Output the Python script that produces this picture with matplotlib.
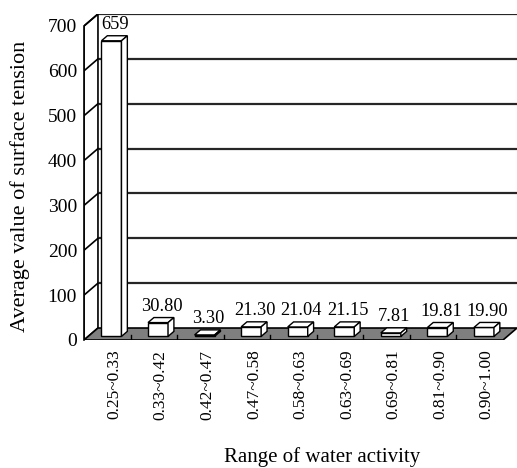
import matplotlib
matplotlib.use("Agg")
import matplotlib.pyplot as plt
from matplotlib.patches import Polygon

# ---- data ----
categories = ["0.25~0.33", "0.33~0.42", "0.42~0.47", "0.47~0.58", "0.58~0.63",
              "0.63~0.69", "0.69~0.81", "0.81~0.90", "0.90~1.00"]
values = [659, 30.80, 3.30, 21.30, 21.04, 21.15, 7.81, 19.81, 19.90]
value_labels = ["659", "30.80", "3.30", "21.30", "21.04", "21.15", "7.81", "19.81", "19.90"]
y_ticks = [0, 100, 200, 300, 400, 500, 600, 700]
x_title = "Range of water activity"
y_title = "Average value of surface tension"

FAM = ['Liberation Serif', 'DejaVu Serif']
plt.rcParams['font.family'] = FAM

W, H = 517, 468
fig = plt.figure(figsize=(W / 100, H / 100), dpi=100)
ax = fig.add_axes([84 / W, (H - 340) / H, (517 - 84) / W, (340 - 14) / H])

n = len(categories)
ymax = y_ticks[-1]
DX = 0.30          # depth offset in category units
DY = 26.7          # depth offset in value units
ax.set_xlim(0, n + DX)
ax.set_ylim(0, ymax + DY)


def P(x, y, d):
    return (x + d * DX, y + d * DY)


def poly(pts, fc, ec="black", lw=1.0, z=1):
    ax.add_patch(Polygon(pts, closed=True, facecolor=fc, edgecolor=ec,
                         linewidth=lw, zorder=z, joinstyle="miter"))


# left wall
poly([P(0, 0, 0), P(0, ymax, 0), P(0, ymax, 1), P(0, 0, 1)], "white", lw=1.2, z=1)
# back wall gridlines
for v in y_ticks[1:]:
    a, b = P(0, v, 1), P(n, v, 1)
    ax.plot([a[0], b[0] + 0.5], [a[1], b[1]], color="#262626", lw=1.6, zorder=1.5,
            solid_capstyle="butt")
    c = P(0, v, 0)
    ax.plot([c[0], a[0]], [c[1], a[1]], color="black", lw=1.2, zorder=1.5)
# floor
poly([P(0, 0, 0), P(n, 0, 0), P(n, 0, 1), P(0, 0, 1)], "#7f7f7f", lw=1.2, z=2)
for i in range(1, n):
    ax.plot([i, i], [0, 11], color="black", lw=1.0, zorder=2.5)

# bars
bw = 0.43
d0, d1 = 0.3, 0.72
for i, v in enumerate(values):
    x0 = i + 0.5 - bw / 2
    x1 = i + 0.5 + bw / 2
    z = 3 + i * 0.01
    poly([P(x0, 0, d0), P(x1, 0, d0), P(x1, v, d0), P(x0, v, d0)], "white", z=z)
    poly([P(x0, v, d0), P(x1, v, d0), P(x1, v, d1), P(x0, v, d1)], "white", z=z)
    poly([P(x1, 0, d0), P(x1, 0, d1), P(x1, v, d1), P(x1, v, d0)], "white", z=z)
    cx, cy = P(i + 0.5, v, d1)
    ax.text(cx - 0.05, cy + 6, value_labels[i], ha="center", va="bottom",
            fontsize=13.2, family=FAM, zorder=5)

# axes styling
for s in ["top", "right", "bottom"]:
    ax.spines[s].set_visible(False)
ax.spines["left"].set_bounds(0, ymax)
ax.spines["left"].set_linewidth(1.2)
ax.set_yticks(y_ticks)
ax.set_yticklabels([str(t) for t in y_ticks], fontsize=14, family=FAM,
                   fontweight="normal")
ax.tick_params(axis="y", length=0, pad=5)
ax.set_xticks([i + 0.5 + DX / 2 for i in range(n)])
ax.set_xticklabels(categories, rotation=90, fontsize=12.5, family=FAM)
ax.tick_params(axis="x", length=0, pad=7)

ax.set_xlabel(x_title, fontsize=15, family=FAM)
ax.set_ylabel(y_title, fontsize=16, family=FAM)
ax.xaxis.set_label_coords((322 - 84) / 433, (340 - 457) / 326)
ax.yaxis.set_label_coords((20 - 84) / 433, (340 - 186) / 326)
ax.xaxis.label.set_va("center")
ax.yaxis.label.set_va("center")

fig.savefig("out.png", dpi=100)
